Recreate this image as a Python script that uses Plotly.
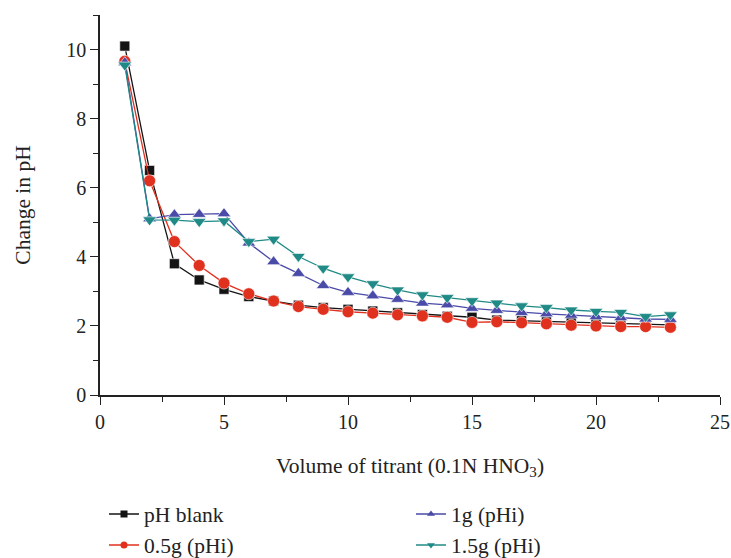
import plotly.graph_objects as go

volume = list(range(1, 24))

ph_blank = [10.1, 6.5, 3.8, 3.33, 3.06, 2.85, 2.72, 2.6, 2.53, 2.48, 2.43, 2.38, 2.33, 2.28,
            2.25, 2.17, 2.15, 2.12, 2.1, 2.07, 2.05, 2.04, 2.03]
ph_05g = [9.66, 6.2, 4.44, 3.75, 3.24, 2.93, 2.72, 2.56, 2.48, 2.41, 2.37, 2.32, 2.29, 2.25,
          2.1, 2.12, 2.09, 2.06, 2.02, 2.0, 1.98, 1.98, 1.96]
ph_1g = [9.62, 5.1, 5.22, 5.23, 5.25, 4.4, 3.86, 3.52, 3.17, 2.97, 2.87, 2.77, 2.66, 2.61,
         2.51, 2.45, 2.39, 2.35, 2.31, 2.27, 2.24, 2.2, 2.19]
ph_15g = [9.55, 5.07, 5.06, 5.02, 5.04, 4.44, 4.51, 4.01, 3.67, 3.42, 3.22, 3.04, 2.9, 2.82,
          2.73, 2.66, 2.58, 2.53, 2.46, 2.42, 2.39, 2.27, 2.32]

names = ["pH blank", "0.5g (pHi)", "1g (pHi)", "1.5g (pHi)"]
colors = ["#141414", "#e0301e", "#4a4aa8", "#1f8a86"]
symbols = ["square", "circle", "triangle-up", "triangle-down"]
sizes = [10, 12, 12, 12]
series = [ph_blank, ph_05g, ph_1g, ph_15g]
legends = ["legend", "legend2", "legend3", "legend4"]

FONT = "Liberation Serif"

fig = go.Figure()
for nm, col, sym, sz, ys, lg in zip(names, colors, symbols, sizes, series, legends):
    fig.add_trace(go.Scatter(
        x=volume, y=ys, name=nm, mode="lines+markers",
        line=dict(color=col, width=1.3),
        marker=dict(symbol=sym, size=sz, color=col, line=dict(width=0.6, color="white")),
        legend=lg, legendgroup=nm, showlegend=False,
    ))
# legend-only entries (smaller symbols, like the reference key)
for nm, col, sym, lg in zip(names, colors, symbols, legends):
    fig.add_trace(go.Scatter(
        x=[None], y=[None], name=nm, mode="lines+markers",
        line=dict(color=col, width=1.5),
        marker=dict(symbol=sym, size=7, color=col),
        legend=lg, legendgroup=nm, showlegend=True,
    ))

W, H = 731, 558
ml, mr, mt, mb = 100, 11, 15, 163
pw, ph = W - ml - mr, H - mt - mb

def px_x(px):
    return (px - ml) / pw

def px_y(py):
    return (H - mb - py) / ph

leg_common = dict(font=dict(family=FONT, size=21.5, color="#222"), bgcolor="rgba(0,0,0,0)",
                  xanchor="left", yanchor="middle", itemwidth=30)

fig.update_layout(
    width=W, height=H,
    margin=dict(l=ml, r=mr, t=mt, b=mb, autoexpand=False),
    paper_bgcolor="white", plot_bgcolor="white",
    font=dict(family=FONT, size=20, color="#222"),
    showlegend=True,
    legend=dict(x=px_x(104), y=px_y(514), **leg_common),
    legend2=dict(x=px_x(104), y=px_y(545), **leg_common),
    legend3=dict(x=px_x(411), y=px_y(514), **leg_common),
    legend4=dict(x=px_x(411), y=px_y(545), **leg_common),
    xaxis=dict(
        range=[0, 25], dtick=5, tick0=0, automargin=False,
        showline=True, linecolor="#222", linewidth=1.5, mirror=False,
        ticks="outside", ticklen=8, tickwidth=1.3, tickcolor="#222",
        minor=dict(dtick=2.5, ticks="outside", ticklen=5, tickwidth=1.3, tickcolor="#222"),
        showgrid=False, zeroline=False,
        tickfont=dict(family=FONT, size=20),
        title=dict(text="Volume of titrant (0.1N HNO<sub>3</sub>)",
                   font=dict(family=FONT, size=21.5), standoff=26),
    ),
    yaxis=dict(
        range=[0, 11], dtick=2, tick0=0, automargin=False,
        showline=True, linecolor="#222", linewidth=1.5, mirror=False,
        ticks="outside", ticklen=8, tickwidth=1.3, tickcolor="#222",
        minor=dict(dtick=1, ticks="outside", ticklen=5, tickwidth=1.3, tickcolor="#222"),
        showgrid=False, zeroline=False,
        tickfont=dict(family=FONT, size=20),
        title=dict(text="Change in pH", font=dict(family=FONT, size=21.5), standoff=30),
    ),
)

fig.write_html("out.html")
